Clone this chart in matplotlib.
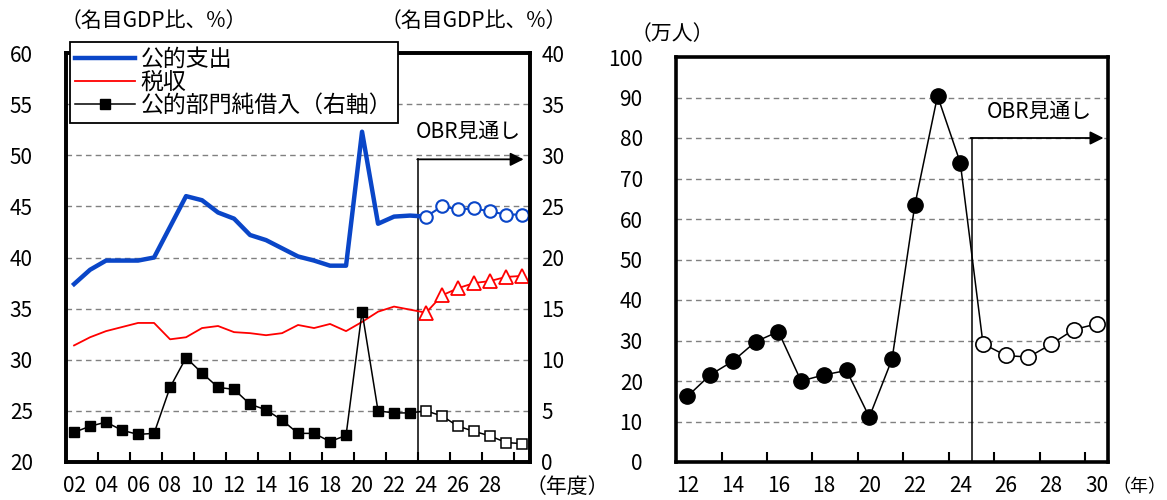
import matplotlib
matplotlib.use('Agg')
import matplotlib.pyplot as plt
from matplotlib.lines import Line2D

plt.rcParams['font.family'] = ['Noto Sans CJK JP', 'DejaVu Sans']
plt.rcParams['font.size'] = 15

# ---- left panel data (fiscal years, % of nominal GDP) ----
fy_actual = [2, 3, 4, 5, 6, 7, 8, 9, 10, 11, 12, 13, 14, 15, 16, 17, 18, 19, 20, 21, 22, 23]
fy_obr = [24, 25, 26, 27, 28, 29, 30]
spend_actual = [37.4, 38.8, 39.7, 39.7, 39.7, 40.0, 43.0, 46.0, 45.6, 44.4, 43.8,
                42.2, 41.7, 40.9, 40.1, 39.7, 39.2, 39.2, 52.3, 43.3, 44.0, 44.1]
spend_obr = [44.0, 45.0, 44.7, 44.8, 44.5, 44.2, 44.2]
tax_actual = [31.4, 32.2, 32.8, 33.2, 33.6, 33.6, 32.0, 32.2, 33.1, 33.3, 32.7,
              32.6, 32.4, 32.6, 33.4, 33.1, 33.5, 32.8, 33.7, 34.7, 35.2, 34.9]
tax_obr = [34.6, 36.3, 37.0, 37.5, 37.7, 38.1, 38.2]
borrow_actual = [2.9, 3.5, 3.9, 3.1, 2.7, 2.8, 7.3, 10.2, 8.7, 7.3, 7.1,
                 5.65, 5.1, 4.1, 2.8, 2.8, 2.0, 2.6, 14.7, 5.0, 4.8, 4.8]
borrow_obr = [5.0, 4.5, 3.5, 3.0, 2.55, 1.9, 1.8]
left_xticks = [2, 4, 6, 8, 10, 12, 14, 16, 18, 20, 22, 24, 26, 28]
left_xlabels = ['02', '04', '06', '08', '10', '12', '14', '16', '18', '20', '22', '24', '26', '28']

# ---- right panel data (calendar years, 10k people) ----
yr_actual = [12, 13, 14, 15, 16, 17, 18, 19, 20, 21, 22, 23, 24]
yr_obr = [25, 26, 27, 28, 29, 30]
migr_actual = [16.2, 21.5, 24.9, 29.7, 32.2, 20.0, 21.5, 22.6, 11.1, 25.4, 63.4, 90.4, 73.9]
migr_obr = [29.2, 26.3, 25.9, 29.1, 32.7, 34.1]
right_xticks = [12, 14, 16, 18, 20, 22, 24, 26, 28, 30]
right_xlabels = ['12', '14', '16', '18', '20', '22', '24', '26', '28', '30']

blue = '#0a46c8'
red = '#ff0000'
grid_c = '#808080'

fig = plt.figure(figsize=(11.67, 5), dpi=100)

# ================= left panel =================
ax = fig.add_axes([0.0566, 0.076, 0.3976, 0.818])
ax2 = ax.twinx()
ax.set_xlim(1.5, 30.5)
ax.set_ylim(20, 60)
ax2.set_ylim(0, 40)

for v in [25, 30, 35, 40, 45, 50, 55]:
    ax.axhline(v, color=grid_c, lw=1, ls=(0, (4, 3)), zorder=0)

# public spending
ax.plot(fy_actual + fy_obr[:1], spend_actual + spend_obr[:1], color=blue, lw=3.2, zorder=3)
ax.plot(fy_obr, spend_obr, color=blue, lw=1.5, marker='o', ms=9,
        mfc='white', mec=blue, mew=1.5, zorder=4)
# tax receipts
ax.plot(fy_actual + fy_obr, tax_actual + tax_obr, color=red, lw=1.3, zorder=3)
ax.plot(fy_obr, tax_obr, ls='none', marker='^', ms=10,
        mfc='white', mec=red, mew=1.3, zorder=4)
# net borrowing (right axis)
ax2.plot(fy_actual + fy_obr, borrow_actual + borrow_obr, color='black', lw=1.1, zorder=3)
ax2.plot(fy_actual, borrow_actual, ls='none', marker='s', ms=7, color='black', zorder=4)
ax2.plot(fy_obr, borrow_obr, ls='none', marker='s', ms=7,
         mfc='white', mec='black', mew=1.1, zorder=4)

# OBR forecast marker
ax.plot([23.5, 23.5], [20, 49.6], color='black', lw=1.1, zorder=2)
ax.annotate('', xy=(30.1, 49.6), xytext=(23.45, 49.6),
            arrowprops=dict(arrowstyle='-|>', color='black', lw=1.3,
                            mutation_scale=20, shrinkA=0, shrinkB=0))
ax.text(29.9, 52.3, 'OBR見通し', ha='right', va='center', fontsize=15)

ax.set_yticks([20, 25, 30, 35, 40, 45, 50, 55, 60])
ax2.set_yticks([0, 5, 10, 15, 20, 25, 30, 35, 40])
ax.set_xticks(left_xticks)
ax.set_xticklabels(left_xlabels)
ax.set_xticks([3.5 + 2 * i for i in range(14)], minor=True)
ax.tick_params(axis='x', which='major', length=0, pad=9)
ax.tick_params(axis='x', which='minor', direction='in', length=7, width=1.5)
ax.tick_params(axis='y', length=0, pad=24)
ax2.tick_params(axis='y', length=0, pad=8)
for a in (ax, ax2):
    for s in a.spines.values():
        s.set_linewidth(2.6)

handles = [Line2D([], [], color=blue, lw=3.2),
           Line2D([], [], color=red, lw=1.3),
           Line2D([], [], color='black', lw=1.1, marker='s', ms=7)]
leg = ax2.legend(handles, ['公的支出', '税収', '公的部門純借入（右軸）'],
                 loc='upper left', bbox_to_anchor=(0.008, 1.026), borderaxespad=0,
                 fancybox=False, framealpha=1, edgecolor='black', fontsize=16.5,
                 handlelength=2.6, handletextpad=0.25, labelspacing=0.0,
                 borderpad=0.25)
leg.get_frame().set_linewidth(1.3)
leg.set_zorder(10)

fig.text(0.052, 0.958, '（名目GDP比、%）', ha='left', va='center', fontsize=15)
fig.text(0.326, 0.958, '（名目GDP比、%）', ha='left', va='center', fontsize=15)
fig.text(0.450, 0.026, '（年度）', ha='left', va='center', fontsize=15)

# ================= right panel =================
bx = fig.add_axes([0.5793, 0.076, 0.3702, 0.81])
bx.set_xlim(11.5, 30.5)
bx.set_ylim(0, 100)
for v in [10, 20, 30, 40, 50, 60, 70, 80, 90]:
    bx.axhline(v, color=grid_c, lw=1, ls=(0, (4, 3)), zorder=0)

bx.plot(yr_actual + yr_obr, migr_actual + migr_obr, color='black', lw=1.1, zorder=3)
bx.plot(yr_actual, migr_actual, ls='none', marker='o', ms=11, color='black', zorder=4)
bx.plot(yr_obr, migr_obr, ls='none', marker='o', ms=11,
        mfc='white', mec='black', mew=1.2, zorder=4)

bx.plot([24.5, 24.5], [0, 80], color='black', lw=1.1, zorder=2)
bx.annotate('', xy=(30.3, 80), xytext=(24.45, 80),
            arrowprops=dict(arrowstyle='-|>', color='black', lw=1.3,
                            mutation_scale=20, shrinkA=0, shrinkB=0))
bx.text(29.8, 86.4, 'OBR見通し', ha='right', va='center', fontsize=15)

bx.set_yticks([0, 10, 20, 30, 40, 50, 60, 70, 80, 90, 100])
bx.set_xticks(right_xticks)
bx.set_xticklabels(right_xlabels)
bx.set_xticks([13.5 + 2 * i for i in range(9)], minor=True)
bx.tick_params(axis='x', which='major', length=0, pad=9)
bx.tick_params(axis='x', which='minor', direction='in', length=7, width=1.5)
bx.tick_params(axis='y', length=0, pad=24)
for s in bx.spines.values():
    s.set_linewidth(2.6)

fig.text(0.540, 0.932, '（万人）', ha='left', va='center', fontsize=15)
fig.text(0.9995, 0.026, '（年）', ha='right', va='center', fontsize=13)

fig.savefig('out.png', dpi=100)
